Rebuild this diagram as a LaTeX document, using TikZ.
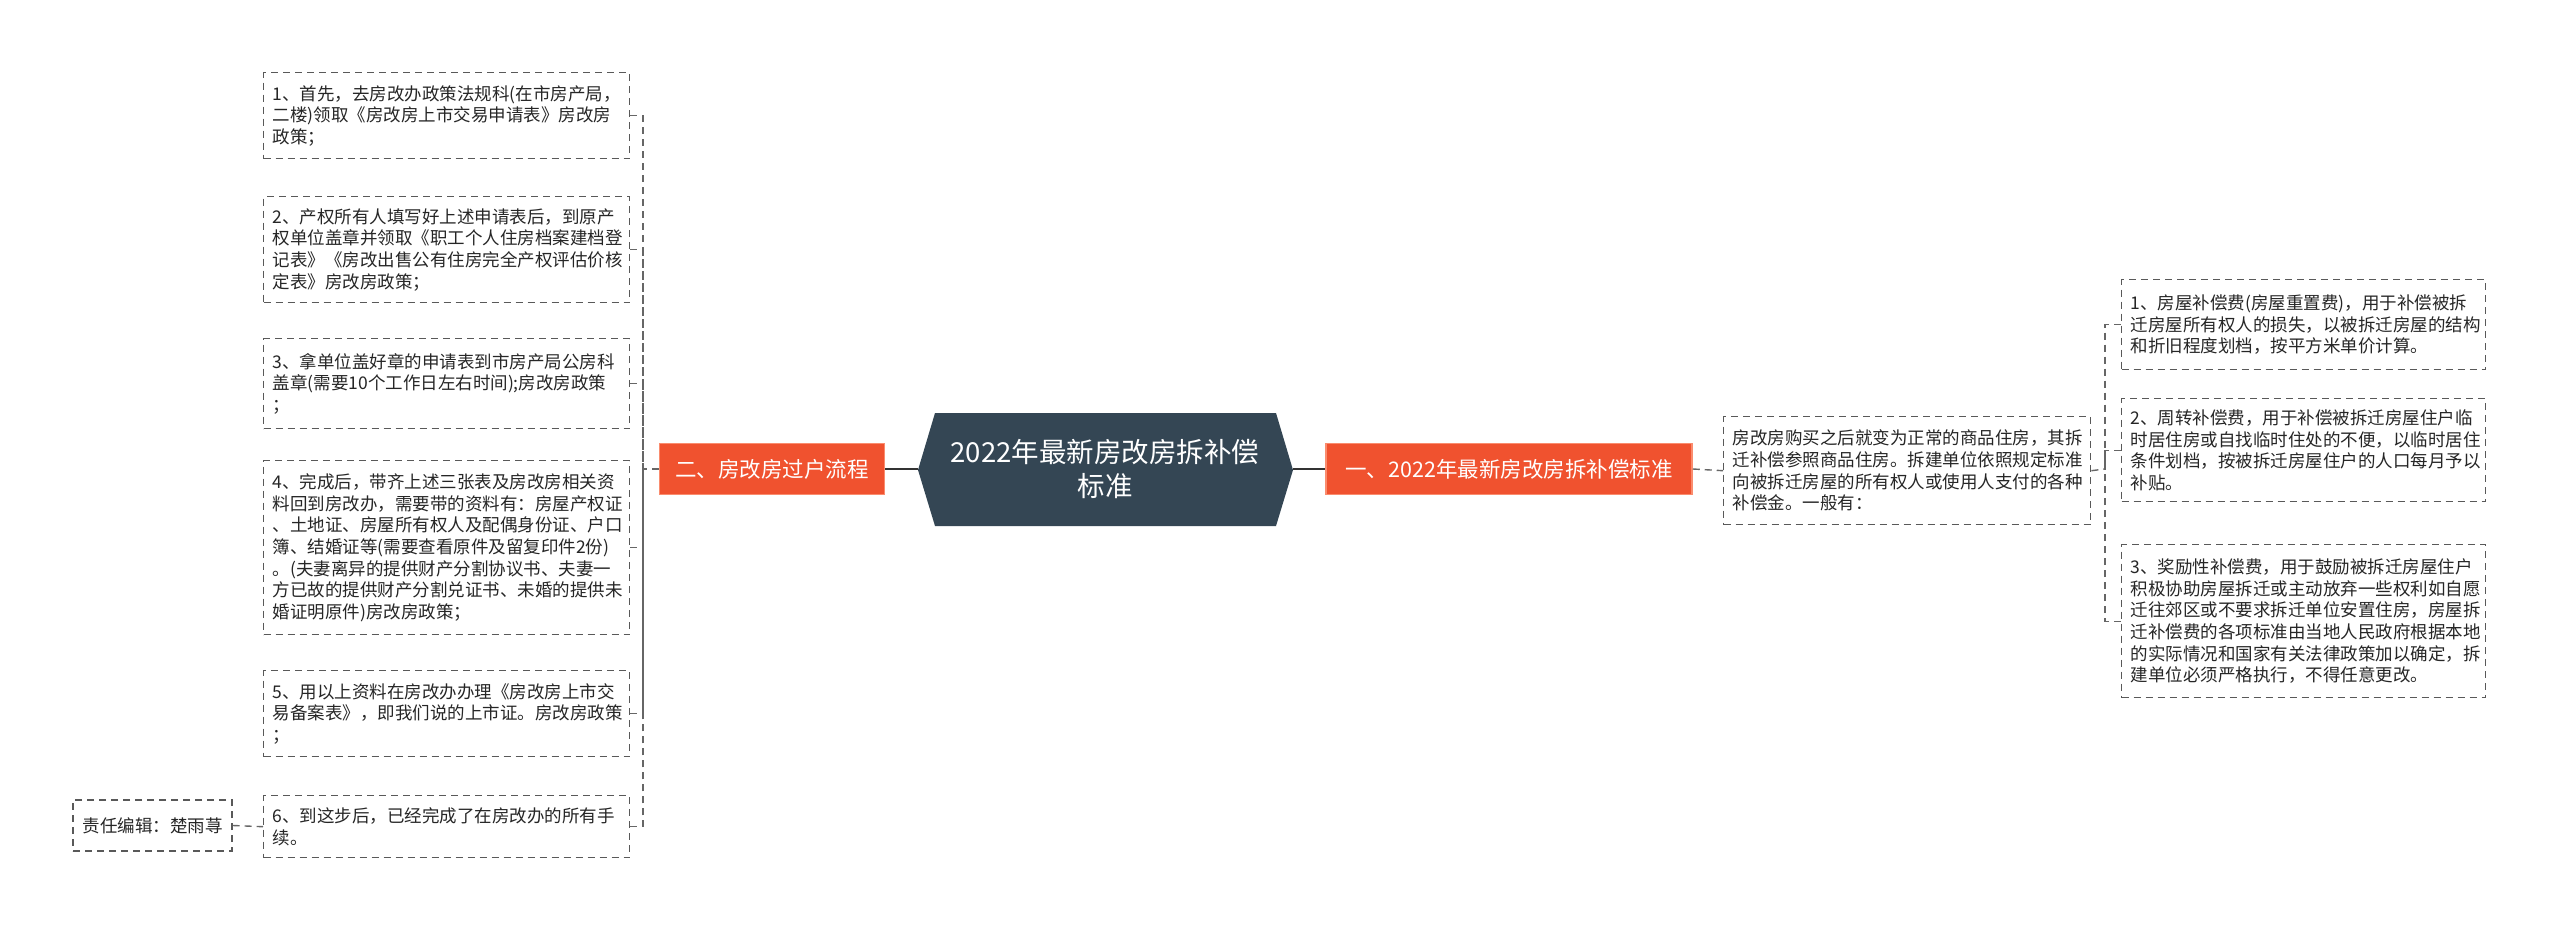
\documentclass[tikz,border=0pt]{standalone}
\usepackage{fontspec}
\setmainfont{Noto Sans CJK SC}
\definecolor{cdark}{RGB}{52,70,84}
\definecolor{corange}{RGB}{240,82,47}
\definecolor{cobord}{RGB}{250,140,110}
\begin{document}
\begin{tikzpicture}[x=1pt,y=-1pt,
 leaf/.style={draw=black!65,dash pattern=on 7pt off 5pt,fill=white,line width=1.4pt,font=\fontsize{17.5}{21.7}\selectfont,align=left,anchor=north west,inner sep=0pt,text=black!85},
 br/.style={draw=cobord,fill=corange,text=white,font=\fontsize{21.5}{26}\selectfont,minimum height=51pt,inner xsep=8pt,line width=1.5pt},
 conn/.style={draw=black!60,dash pattern=on 7pt off 5pt,line width=1.4pt},
 solidc/.style={draw=black!80,line width=1.5pt}]
\useasboundingbox (0,0) rectangle (2560,931);
\fill[white] (0,0) rectangle (2560,931);
% center
\fill[cdark] (918,470) -- (935,413) -- (1276,413) -- (1293,470) -- (1276,526) -- (935,526) -- cycle;
\node[text=white,font=\fontsize{27.5}{34}\selectfont,align=center] (c) at (1105,469) {2022年最新房改房拆补偿\\标准};
\coordinate (cl) at (918,469);
\coordinate (cr) at (1293,469);
% branches
\node[br,minimum width=225pt] (L) at (772,469) {二、房改房过户流程};
\node[br,minimum width=366pt] (R) at (1509,469) {一、2022年最新房改房拆补偿标准};
\draw[solidc] (cl) -- (L.east);
\draw[solidc] (cr) -- (R.west);
% left leaves
\newcommand{\lbox}[4]{\node[leaf,minimum width=366pt,minimum height=#3pt,text width=348pt,inner xsep=9pt] (#1) at (263,#2) {#4};}
\lbox{l1}{72}{86}{1、首先，去房改办政策法规科(在市房产局，\\二楼)领取《房改房上市交易申请表》房改房\\政策；}
\lbox{l2}{196}{106}{2、产权所有人填写好上述申请表后，到原产\\权单位盖章并领取《职工个人住房档案建档登\\记表》《房改出售公有住房完全产权评估价核\\定表》房改房政策；}
\lbox{l3}{338}{90}{3、拿单位盖好章的申请表到市房产局公房科\\盖章(需要10个工作日左右时间);房改房政策\\；}
\lbox{l4}{460}{174}{4、完成后，带齐上述三张表及房改房相关资\\料回到房改办，需要带的资料有：房屋产权证\\、土地证、房屋所有权人及配偶身份证、户口\\簿、结婚证等(需要查看原件及留复印件2份)\\。(夫妻离异的提供财产分割协议书、夫妻一\\方已故的提供财产分割兑证书、未婚的提供未\\婚证明原件)房改房政策；}
\lbox{l5}{670}{86}{5、用以上资料在房改办办理《房改房上市交\\易备案表》，即我们说的上市证。房改房政策\\；}
\lbox{l6}{795}{62}{6、到这步后，已经完成了在房改办的所有手\\续。}
\node[leaf,anchor=center,minimum width=159pt,minimum height=51pt,align=center] (ed) at (152.5,825.5) {责任编辑：楚雨荨};
\coordinate (lb) at (643,469);
\draw[conn] (L.west) -- (lb);
\foreach \n in {l1,l2,l3,l4,l5,l6}{\draw[conn] (\n.east) -| (lb);}
\draw[conn] (ed.east) -- (l6.west);
% right
\node[leaf,minimum width=367pt,minimum height=108pt,text width=349pt,inner xsep=9pt] (r0) at (1723,416) {房改房购买之后就变为正常的商品住房，其拆\\迁补偿参照商品住房。拆建单位依照规定标准\\向被拆迁房屋的所有权人或使用人支付的各种\\补偿金。一般有：};
\draw[conn] (R.east) -- (r0.west);
\newcommand{\rbox}[4]{\node[leaf,minimum width=364pt,minimum height=#3pt,text width=346pt,inner xsep=9pt] (#1) at (2121,#2) {#4};}
\rbox{r1}{279}{90}{1、房屋补偿费(房屋重置费)，用于补偿被拆\\迁房屋所有权人的损失，以被拆迁房屋的结构\\和折旧程度划档，按平方米单价计算。}
\rbox{r2}{398}{103}{2、周转补偿费，用于补偿被拆迁房屋住户临\\时居住房或自找临时住处的不便，以临时居住\\条件划档，按被拆迁房屋住户的人口每月予以\\补贴。}
\rbox{r3}{544}{153}{3、奖励性补偿费，用于鼓励被拆迁房屋住户\\积极协助房屋拆迁或主动放弃一些权利如自愿\\迁往郊区或不要求拆迁单位安置住房，房屋拆\\迁补偿费的各项标准由当地人民政府根据本地\\的实际情况和国家有关法律政策加以确定，拆\\建单位必须严格执行，不得任意更改。}
\coordinate (rb) at (2105,469);
\draw[conn] (r0.east) -- (rb);
\foreach \n in {r1,r2,r3}{\draw[conn] (\n.west) -| (rb);}
\end{tikzpicture}
\end{document}
